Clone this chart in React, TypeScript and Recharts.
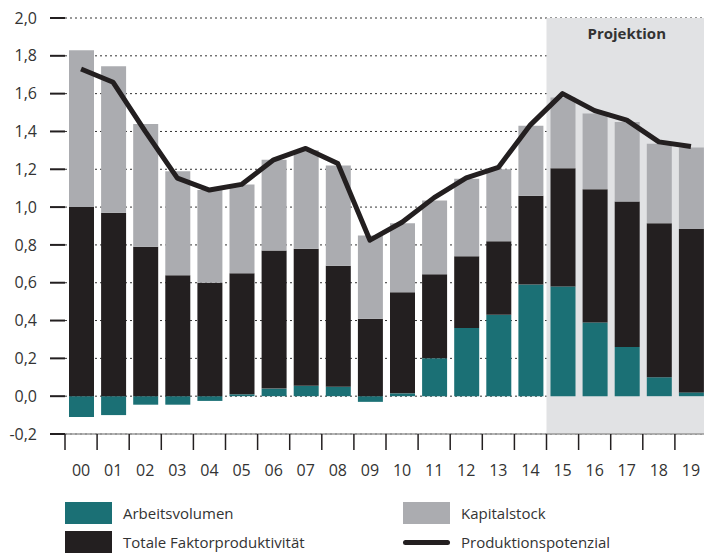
import {
  ComposedChart,
  Bar,
  Line,
  XAxis,
  YAxis,
  CartesianGrid,
  ReferenceArea,
} from 'recharts';

const YEARS = ['00', '01', '02', '03', '04', '05', '06', '07', '08', '09', '10', '11', '12', '13', '14', '15', '16', '17', '18', '19'];

const ARBEITSVOLUMEN = [-0.11, -0.1, -0.045, -0.045, -0.025, 0.01, 0.04, 0.055, 0.05, -0.03, 0.015, 0.2, 0.36, 0.43, 0.59, 0.58, 0.39, 0.26, 0.1, 0.02];
const TFP = [1.0, 0.97, 0.79, 0.64, 0.6, 0.64, 0.73, 0.725, 0.64, 0.41, 0.535, 0.445, 0.38, 0.39, 0.47, 0.625, 0.705, 0.77, 0.815, 0.865];
const KAPITALSTOCK = [0.83, 0.775, 0.65, 0.55, 0.49, 0.47, 0.48, 0.52, 0.53, 0.44, 0.365, 0.39, 0.41, 0.38, 0.37, 0.375, 0.4, 0.42, 0.42, 0.43];
const POTENZIAL = [1.73, 1.66, 1.4, 1.153, 1.09, 1.12, 1.25, 1.31, 1.23, 0.825, 0.92, 1.05, 1.155, 1.21, 1.435, 1.6, 1.51, 1.46, 1.345, 1.32];

const Y_TICKS = [-0.2, 0, 0.2, 0.4, 0.6, 0.8, 1.0, 1.2, 1.4, 1.6, 1.8, 2.0];

const TEAL = '#1b7075';
const DARK = '#231f20';
const GREY = '#abacb0';
const SHADE = '#e1e2e4';
const FONT = '"Open Sans", sans-serif';

const CHART_W = 710;
const CHART_H = 480;
const Y_AXIS_W = 65;
const RIGHT = 3;
const BAND = (CHART_W - Y_AXIS_W - RIGHT) / YEARS.length;

const data = YEARS.map((year, i) => ({
  year,
  arbeit: ARBEITSVOLUMEN[i],
  tfp: TFP[i],
  kapital: KAPITALSTOCK[i],
  potenzial: POTENZIAL[i],
}));

// category label plus a tick line at the left edge of each band
function YearTick({ x, y, payload }: any) {
  return (
    <g>
      <line x1={x - BAND / 2} x2={x - BAND / 2} y1={y - 8} y2={y + 8} stroke={DARK} strokeWidth={1.5} />
      <text x={x} y={y + 34} textAnchor="middle" fontSize={16} fill="#333" fontFamily={FONT}>
        {payload.value}
      </text>
    </g>
  );
}

function LegendItem({ color, label, line }: { color: string; label: string; line?: boolean }) {
  return (
    <div style={{ display: 'flex', alignItems: 'center', height: 22, marginBottom: 7 }}>
      {line ? (
        <div style={{ width: 47, height: 5, borderRadius: 2.5, background: color }} />
      ) : (
        <div style={{ width: 47, height: 22, background: color }} />
      )}
      <span style={{ marginLeft: 11, fontSize: 15, color: '#333', fontFamily: FONT }}>{label}</span>
    </div>
  );
}

export default function App() {
  return (
    <div style={{ position: 'absolute', left: 0, top: 0, width: 704, height: 553, overflow: 'hidden', background: '#fff' }}>
      <ComposedChart
        width={CHART_W}
        height={CHART_H}
        data={data}
        stackOffset="sign"
        margin={{ top: 18, right: RIGHT, left: 0, bottom: 0 }}
        barSize={25}
      >
        <ReferenceArea
          x1="15"
          x2="19"
          y1={-0.2}
          y2={2.0}
          fill={SHADE}
          fillOpacity={1}
          stroke="none"
          label={{ value: 'Projektion', position: 'insideTop', offset: 10, fontSize: 15, fontWeight: 700, fill: '#333', fontFamily: FONT }}
        />
        <CartesianGrid vertical={false} stroke="#333" strokeDasharray="2 3" />
        <XAxis
          dataKey="year"
          height={46}
          axisLine={{ stroke: '#999', strokeWidth: 1.5 }}
          tickLine={false}
          tick={<YearTick />}
          interval={0}
        />
        <YAxis
          width={Y_AXIS_W}
          domain={[-0.2, 2.0]}
          ticks={Y_TICKS}
          allowDataOverflow
          axisLine={false}
          tickSize={15}
          tickMargin={13}
          tickLine={{ stroke: DARK, strokeWidth: 2 }}
          tick={{ fontSize: 16, fill: '#333', fontFamily: FONT }}
          tickFormatter={(v: number) => v.toFixed(1).replace('.', ',')}
        />
        <Bar dataKey="arbeit" stackId="a" fill={TEAL} isAnimationActive={false} />
        <Bar dataKey="tfp" stackId="a" fill={DARK} isAnimationActive={false} />
        <Bar dataKey="kapital" stackId="a" fill={GREY} isAnimationActive={false} />
        <Line
          dataKey="potenzial"
          type="linear"
          stroke={DARK}
          strokeWidth={5}
          strokeLinejoin="round"
          dot={false}
          isAnimationActive={false}
        />
      </ComposedChart>
      <div style={{ position: 'absolute', left: 65, top: 502 }}>
        <LegendItem color={TEAL} label="Arbeitsvolumen" />
        <LegendItem color={DARK} label="Totale Faktorproduktivität" />
      </div>
      <div style={{ position: 'absolute', left: 403, top: 502 }}>
        <LegendItem color={GREY} label="Kapitalstock" />
        <LegendItem color={DARK} label="Produktionspotenzial" line />
      </div>
    </div>
  );
}
